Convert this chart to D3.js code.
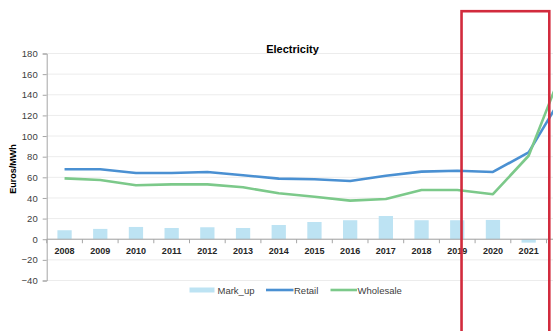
<!DOCTYPE html>
<html lang="en">
<head>
    <meta charset="UTF-8">
    <title>Electricity</title>
    <script src="https://d3js.org/d3.v7.min.js"></script>
    <style>
        body { margin: 0; background: #fff; }
        svg { display: block; font-family: "Liberation Sans", Arial, sans-serif; }
        .tick-y { font-size: 9.5px; fill: #404040; }
        .tick-x { font-size: 9px; font-weight: bold; fill: #262626; }
        .legend-text { font-size: 9.5px; fill: #404040; }
    </style>
</head>
<body>
    <svg width="553" height="331"></svg>
    <script>
        // data
        const years = ["2008", "2009", "2010", "2011", "2012", "2013", "2014", "2015",
                       "2016", "2017", "2018", "2019", "2020", "2021", "2022"];
        const markUp = [8.7, 10, 11.9, 10.9, 11.6, 10.9, 13.8, 16.7, 18.4, 22.5, 18.4, 18.4, 18.7, -3.3, -27];
        const retail = [67.8, 67.8, 64.2, 64.2, 65.1, 62, 58.7, 58.2, 56.4, 61.6, 65.5, 66.4, 65.2, 84.2, 142];
        const wholesale = [59, 57.4, 52.3, 53.2, 53.2, 50.3, 44.5, 41.2, 37.4, 39, 47.7, 47.7, 43.6, 80.9, 169];
        const yTicks = [-40, -20, 0, 20, 40, 60, 80, 100, 120, 140, 160, 180];

        const colors = { markUp: "#bde3f3", retail: "#4a90d2", wholesale: "#7cc98a" };

        const margin = { left: 46.7, top: 53.5 };
        const plotW = 35.7 * years.length;
        const plotH = 227;

        const svg = d3.select("svg");
        const g = svg.append("g")
            .attr("transform", `translate(${margin.left},${margin.top})`);

        const x = d3.scaleBand().domain(years).range([0, plotW]).padding(0);
        const y = d3.scaleLinear().domain([-40, 180]).range([plotH, 0]);

        // gridlines
        g.selectAll(".grid")
            .data(yTicks)
            .enter()
            .append("line")
            .attr("x1", 0)
            .attr("x2", plotW)
            .attr("y1", d => y(d))
            .attr("y2", d => y(d))
            .attr("stroke", "#ececec")
            .attr("stroke-width", 1);

        // y axis
        const yAxis = g.append("g")
            .call(d3.axisLeft(y).tickValues(yTicks).tickSize(4).tickPadding(5));
        yAxis.select(".domain").attr("stroke", "#a6a6a6");
        yAxis.selectAll(".tick line").attr("stroke", "#a6a6a6");
        yAxis.selectAll("text").attr("class", "tick-y").attr("font-family", null).attr("font-size", null).attr("fill", null);

        // bars
        const barW = x.bandwidth() * 0.4;
        g.selectAll(".bar")
            .data(years.map((yr, i) => ({ yr, v: markUp[i] })))
            .enter()
            .append("rect")
            .attr("x", d => x(d.yr) + (x.bandwidth() - barW) / 2)
            .attr("y", d => y(Math.max(0, d.v)))
            .attr("width", barW)
            .attr("height", d => Math.abs(y(d.v) - y(0)))
            .attr("fill", colors.markUp);

        // x axis at zero
        g.append("line")
            .attr("x1", 0).attr("x2", plotW)
            .attr("y1", y(0)).attr("y2", y(0))
            .attr("stroke", "#a6a6a6");
        g.selectAll(".xtick")
            .data(years.concat(["end"]))
            .enter()
            .append("line")
            .attr("x1", d => d === "end" ? plotW : x(d))
            .attr("x2", d => d === "end" ? plotW : x(d))
            .attr("y1", y(0))
            .attr("y2", y(0) + 4)
            .attr("stroke", "#a6a6a6");
        g.selectAll(".xlabel")
            .data(years)
            .enter()
            .append("text")
            .attr("class", "tick-x")
            .attr("x", d => x(d) + x.bandwidth() / 2)
            .attr("y", y(0) + 15)
            .attr("text-anchor", "middle")
            .text(d => d);

        // lines
        const line = d3.line()
            .x(d => x(d.yr) + x.bandwidth() / 2)
            .y(d => y(d.v));
        [[retail, colors.retail], [wholesale, colors.wholesale]].forEach(([vals, c]) => {
            g.append("path")
                .datum(years.map((yr, i) => ({ yr, v: vals[i] })))
                .attr("d", line)
                .attr("fill", "none")
                .attr("stroke", c)
                .attr("stroke-width", 2.6)
                .attr("stroke-linejoin", "round");
        });

        // title
        svg.append("text")
            .attr("x", 292.5)
            .attr("y", 53)
            .attr("text-anchor", "middle")
            .attr("font-size", "11px")
            .attr("font-weight", "bold")
            .attr("fill", "#000")
            .text("Electricity");

        // y axis title
        svg.append("text")
            .attr("transform", `translate(16,${margin.top + plotH / 2 + 2}) rotate(-90)`)
            .attr("text-anchor", "middle")
            .attr("font-size", "9px")
            .attr("font-weight", "bold")
            .attr("fill", "#000")
            .text("Euros/MWh");

        // legend
        const legend = svg.append("g").attr("transform", "translate(0,290)");
        legend.append("rect")
            .attr("x", 189.5).attr("y", -2.5)
            .attr("width", 25).attr("height", 5)
            .attr("fill", colors.markUp);
        legend.append("text").attr("class", "legend-text")
            .attr("x", 217.5).attr("y", 3.5).text("Mark_up");
        legend.append("line")
            .attr("x1", 266).attr("x2", 293.5).attr("y1", 0).attr("y2", 0)
            .attr("stroke", colors.retail).attr("stroke-width", 2.6);
        legend.append("text").attr("class", "legend-text")
            .attr("x", 294).attr("y", 3.5).text("Retail");
        legend.append("line")
            .attr("x1", 330.5).attr("x2", 357).attr("y1", 0).attr("y2", 0)
            .attr("stroke", colors.wholesale).attr("stroke-width", 2.6);
        legend.append("text").attr("class", "legend-text")
            .attr("x", 357.5).attr("y", 3.5).text("Wholesale");

        // red highlight box
        const boxL = margin.left + x("2019") + x.bandwidth() * 0.62;
        const boxR = margin.left + x("2022") + 2.8;
        svg.append("rect")
            .attr("x", boxL)
            .attr("y", 11.2)
            .attr("width", boxR - boxL)
            .attr("height", 340)
            .attr("fill", "none")
            .attr("stroke", "#d22b3d")
            .attr("stroke-width", 2.6);
    </script>
</body>
</html>
